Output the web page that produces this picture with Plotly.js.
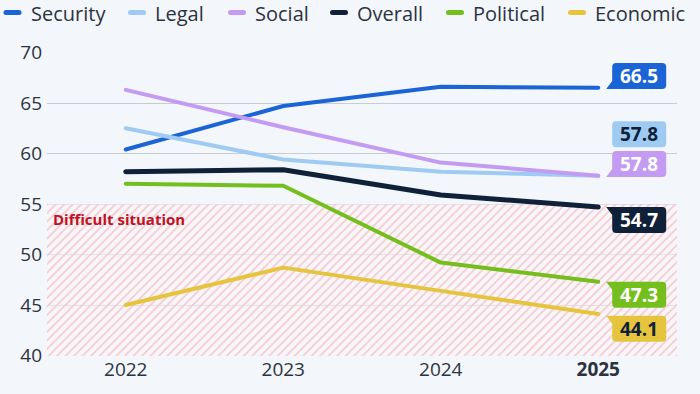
<!DOCTYPE html>
<html>
<head>
<meta charset="utf-8">
<script src="https://cdn.plot.ly/plotly-3.0.1.min.js"></script>
<style>
html,body{margin:0;padding:0;background:#f3f6fa;}
#chart{width:700px;height:394px;}
.scatterlayer .js-line{stroke-linecap:round;stroke-linejoin:round;}
</style>
</head>
<body>
<div id="chart"></div>
<script>
// ---- data ----
const years = [2022, 2023, 2024, 2025];
const yearLabels = ["2022", "2023", "2024", "<b>2025</b>"];
const seriesNames = ["Security", "Legal", "Social", "Overall", "Political", "Economic"];
const security  = [60.4, 64.7, 66.6, 66.5];
const legal     = [62.5, 59.4, 58.2, 57.8];
const social    = [66.3, 62.6, 59.1, 57.8];
const overall   = [58.2, 58.4, 55.9, 54.7];
const political = [57.0, 56.8, 49.2, 47.3];
const economic  = [45.0, 48.7, 46.4, 44.1];
const difficultThreshold = 55;
const difficultLabel = "Difficult situation";

// ---- styles ----
const values = [security, legal, social, overall, political, economic];
const colors = ["#1a64d6", "#9fcbf3", "#c39bf3", "#0f2039", "#74bf1d", "#e7c43d"];
const labelTextColors = ["#ffffff", "#0f2039", "#ffffff", "#ffffff", "#ffffff", "#0f2039"];
const widths = [4, 4, 4, 5, 4, 4];
// label bubble vertical offsets (data units) relative to the end value, and pointer side
const labelOffset = [1.18, 4.11, 1.15, -1.28, -1.28, -1.44];
const pointer = ["bottom", "none", "bottom", "top", "top", "top"];
const labelX = 2025.26;

const xRange = [2021.5, 2025.5];
const yRange = [39.95, 70.05];

const traces = [];
// hatched "difficult situation" band
traces.push({
  x: [xRange[0], xRange[1], xRange[1], xRange[0]],
  y: [yRange[0], yRange[0], difficultThreshold, difficultThreshold],
  mode: "lines", fill: "toself", line: {width: 0, color: "rgba(0,0,0,0)"},
  fillcolor: "rgba(255,255,255,0)",
  fillpattern: {shape: "/", fgcolor: "#f2cbd1", bgcolor: "rgba(255,246,247,0.5)", size: 6, solidity: 0.3},
  hoverinfo: "skip", showlegend: false
});
values.forEach((v, i) => {
  traces.push({
    x: years, y: v, mode: "lines", name: seriesNames[i],
    line: {color: colors[i], width: widths[i]}, showlegend: false
  });
});

const annotations = [];
const shapes = [];

function bubblePath(kind) {
  const w = 27, h = 13, r = 4, tip = 33;
  // y positive = up
  if (kind === "bottom") {
    return `M ${-w + r},${h} L ${w - r},${h} Q ${w},${h} ${w},${h - r} L ${w},${-h + r} Q ${w},${-h} ${w - r},${-h} L ${-tip},${-h} L ${-w},${-h + 8} L ${-w},${h - r} Q ${-w},${h} ${-w + r},${h} Z`;
  } else if (kind === "top") {
    return `M ${-tip},${h} L ${w - r},${h} Q ${w},${h} ${w},${h - r} L ${w},${-h + r} Q ${w},${-h} ${w - r},${-h} L ${-w + r},${-h} Q ${-w},${-h} ${-w},${-h + r} L ${-w},${h - 8} Z`;
  }
  return `M ${-w + r},${h} L ${w - r},${h} Q ${w},${h} ${w},${h - r} L ${w},${-h + r} Q ${w},${-h} ${w - r},${-h} L ${-w + r},${-h} Q ${-w},${-h} ${-w},${-h + r} L ${-w},${h - r} Q ${-w},${h} ${-w + r},${h} Z`;
}

values.forEach((v, i) => {
  const last = v[v.length - 1];
  const ly = last + labelOffset[i];
  shapes.push({
    type: "path", xref: "x", yref: "y", xsizemode: "pixel", ysizemode: "pixel",
    xanchor: labelX, yanchor: ly, path: bubblePath(pointer[i]),
    fillcolor: colors[i], line: {width: 0}, layer: "above"
  });
  annotations.push({
    x: labelX, y: ly, xref: "x", yref: "y", text: "<b>" + last.toFixed(1) + "</b>",
    showarrow: false, font: {family: "Open Sans", size: 19, color: labelTextColors[i]},
    xanchor: "center", yanchor: "middle"
  });
});

annotations.push({
  x: xRange[0], y: difficultThreshold, xref: "x", yref: "y", xanchor: "left", yanchor: "top",
  xshift: 4, yshift: -3, text: "<b>" + difficultLabel + "</b>", showarrow: false,
  font: {family: "Open Sans", size: 15, color: "#c0121f"}
});

// custom legend (pixel positions of the legend row)
const margin = {l: 47, r: 23, t: 52, b: 38};
const plotW = 700 - margin.l - margin.r, plotH = 394 - margin.t - margin.b;
const legendSymLeft = [3.5, 128, 228, 330, 446, 568];
const legendY = 12.5;
const pxX = px => (px - margin.l) / plotW;
const pxY = py => (394 - margin.b - py) / plotH;
seriesNames.forEach((n, i) => {
  shapes.push({
    type: "path", xref: "paper", yref: "paper", xsizemode: "pixel", ysizemode: "pixel",
    xanchor: pxX(legendSymLeft[i]), yanchor: pxY(legendY),
    path: "M 2.5,2.5 L 15.5,2.5 Q 18,2.5 18,0 Q 18,-2.5 15.5,-2.5 L 2.5,-2.5 Q 0,-2.5 0,0 Q 0,2.5 2.5,2.5 Z",
    fillcolor: colors[i], line: {width: 0}, layer: "above"
  });
  annotations.push({
    x: pxX(legendSymLeft[i] + 25), y: pxY(legendY + 1), xref: "paper", yref: "paper",
    xanchor: "left", yanchor: "middle", text: n, showarrow: false,
    font: {family: "Open Sans", size: 20, color: "#2c3340"}
  });
});

const layout = {
  width: 700, height: 394, margin: margin,
  paper_bgcolor: "#f3f6fa", plot_bgcolor: "#f3f6fa",
  showlegend: false,
  font: {family: "Open Sans", color: "#2c3340"},
  xaxis: {range: xRange, tickvals: years, ticktext: yearLabels, showgrid: false, zeroline: false,
          showline: false, ticks: "", tickfont: {size: 19, color: "#2c3340"}, fixedrange: true},
  yaxis: {range: yRange, tickvals: [40, 45, 50, 55, 60, 65, 70], showgrid: true, gridcolor: "#c8ccd3",
          gridwidth: 1, zeroline: false, showline: false, ticks: "", ticklabelstandoff: 4,
          tickfont: {size: 19, color: "#2c3340"}, fixedrange: true},
  annotations: annotations, shapes: shapes
};

Plotly.newPlot("chart", traces, layout, {displayModeBar: false, staticPlot: true});
</script>
</body>
</html>
